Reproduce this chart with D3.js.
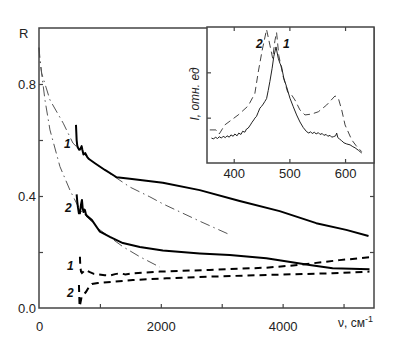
<!DOCTYPE html>
<html><head><meta charset="utf-8">
<script src="https://cdn.jsdelivr.net/npm/d3@7"></script>
<style>
body{margin:0;background:#fff;}
svg{display:block;font-family:Arial,"Liberation Sans",sans-serif;}
</style></head>
<body>
<svg id="c" width="407" height="349"></svg>
<script>
// ---- main chart data (x: wavenumber cm^-1, y: R) ----
const curve1Solid = [[607,0.654],[612,0.63],[618,0.6],[628,0.58],[640,0.572],[660,0.565],[680,0.568],[700,0.578],[712,0.565],[730,0.548],[760,0.553],[790,0.54],[820,0.532],[918,0.517],[1082,0.493],[1274,0.467],[1492,0.462],[2033,0.4475],[2639,0.421],[3295,0.382],[3951,0.346],[4552,0.303],[5044,0.279],[5410,0.257]];
const curve2Solid = [[618,0.406],[628,0.38],[639,0.36],[655,0.338],[672,0.338],[690,0.37],[705,0.386],[718,0.355],[730,0.343],[742,0.352],[754,0.35],[770,0.335],[787,0.329],[869,0.314],[1000,0.2725],[1164,0.254],[1377,0.232],[1656,0.218],[2033,0.205],[2639,0.195],[3131,0.189],[3733,0.1775],[4443,0.1536],[4820,0.142],[5426,0.138]];
const dashDotA = [[0,0.93],[20,0.88],[44,0.838],[180,0.743],[398,0.66],[557,0.589],[836,0.529],[1274,0.464],[1492,0.432],[1820,0.397],[2033,0.372],[2639,0.31],[3131,0.262]];
const dashDotB = [[0,0.93],[8,0.9],[98,0.743],[180,0.636],[344,0.505],[508,0.421],[672,0.35],[1000,0.279],[1377,0.219],[1656,0.183],[1984,0.146]];
const dashed1 = [[672,0.183],[676,0.16],[680,0.145],[690,0.13],[705,0.125],[730,0.13],[754,0.136],[790,0.133],[836,0.128],[900,0.122],[967,0.12],[1080,0.117],[1164,0.116],[1250,0.121],[1328,0.124],[1420,0.12],[1541,0.124],[1984,0.13],[2803,0.136],[3733,0.144],[4279,0.154],[4934,0.171],[5426,0.181]];
const dashed2 = [[656,0.082],[660,0.05],[664,0.02],[668,0.005],[700,0.04],[770,0.057],[820,0.075],[869,0.086],[967,0.089],[1541,0.1],[2093,0.106],[2803,0.112],[3733,0.118],[4820,0.124],[5426,0.13]];
const xTickValues = [1000,2000,3000,4000,5000];
const xTickLabels = [0,2000,4000];
const yTickValues = [0.2,0.4,0.6,0.8];
const yTickLabels = [0.0,0.4,0.8];

// ---- inset data (x: nm, y: I rel. units) ----
const insetSolid1 = [[360,0.55],[364,0.53],[367,0.57],[371,0.54],[374,0.58],[378,0.55],[381,0.59],[385,0.56],[388,0.6],[392,0.57],[395,0.62],[399,0.59],[402,0.64],[406,0.6],[409,0.66],[413,0.63],[416,0.7],[420,0.68],[423,0.75],[426,0.77],[430,0.84],[433,0.9],[436,0.95],[438,0.99],[441,1.03],[444,1.12],[447,1.21],[450,1.25],[453,1.30],[456,1.36],[459,1.42],[462,1.6],[465,1.8],[469,2.09],[472,2.35],[476,2.56],[480,2.31],[483,2.2],[486,2.12],[490,1.87],[495,1.68],[501,1.43],[507,1.24],[513,1.06],[519,0.905],[525,0.78],[531,0.69],[535,0.66],[538,0.69],[541,0.65],[545,0.68],[548,0.64],[552,0.67],[555,0.63],[559,0.65],[562,0.61],[566,0.63],[569,0.59],[573,0.61],[576,0.57],[579,0.58],[583,0.6],[585,0.66],[587,0.56],[590,0.53],[594,0.49],[598,0.445],[603,0.42],[609,0.40],[614,0.36],[618,0.335],[624,0.28],[630,0.22]];
const insetDashed2 = [[357,0.73],[368,0.73],[374,0.64],[384,0.84],[408,1.06],[426,1.26],[438,1.535],[444,2.0],[451,2.48],[459,2.945],[465,2.6],[470,2.31],[474,2.7],[477,2.88],[481,2.37],[489,1.9],[497,1.56],[504,1.5],[510,1.39],[519,1.17],[528,1.06],[540,1.08],[552,1.13],[567,1.28],[582,1.48],[588,1.425],[594,1.17],[600,0.84],[612,0.51],[620,0.38],[630,0.25]];
const insetXTicks = [400,500,600];
const insetYTicks = [1,2];

const svg = d3.select("#c");
const x = d3.scaleLinear().domain([0,5500]).range([39,374]);
const y = d3.scaleLinear().domain([0,1.0]).range([308,28]);
const frameCol = "#444";

const line = d3.line().x(d=>x(d[0])).y(d=>y(d[1]));
const g = svg.append("g");

// curves
g.append("path").datum(dashDotA).attr("d",line).attr("fill","none").attr("stroke","#555").attr("stroke-width",1).attr("stroke-dasharray","10,4,1.5,4");
g.append("path").datum(dashDotB).attr("d",line).attr("fill","none").attr("stroke","#555").attr("stroke-width",1).attr("stroke-dasharray","10,4,1.5,4");
g.append("path").datum(curve1Solid).attr("d",line).attr("fill","none").attr("stroke","#000").attr("stroke-width",2).attr("stroke-linejoin","round");
g.append("path").datum(curve2Solid).attr("d",line).attr("fill","none").attr("stroke","#000").attr("stroke-width",2).attr("stroke-linejoin","round");
g.append("path").datum(dashed1).attr("d",line).attr("fill","none").attr("stroke","#000").attr("stroke-width",2).attr("stroke-dasharray","7,5");
g.append("path").datum(dashed2).attr("d",line).attr("fill","none").attr("stroke","#000").attr("stroke-width",2).attr("stroke-dasharray","7,5");

// axes: ticks inward
const ax = (sel)=>sel.selectAll("path").remove();
svg.append("g").attr("transform","translate(0,308)")
  .call(d3.axisBottom(x).tickValues(xTickValues).tickSize(-4).tickFormat(""))
  .call(s=>{s.selectAll("line").attr("stroke",frameCol).attr("stroke-width",1.2);}).call(ax);
svg.append("g").attr("transform","translate(39,0)")
  .call(d3.axisLeft(y).tickValues(yTickValues).tickSize(-4).tickFormat(""))
  .call(s=>{s.selectAll("line").attr("stroke",frameCol).attr("stroke-width",1.2);}).call(ax);
svg.append("g").attr("transform","translate(374,0)")
  .call(d3.axisRight(y).tickValues(yTickValues).tickSize(-4).tickFormat(""))
  .call(s=>{s.selectAll("line").attr("stroke",frameCol).attr("stroke-width",1.2);}).call(ax);

// tick labels
svg.append("g").attr("transform","translate(0,308)")
  .call(d3.axisBottom(x).tickValues(xTickLabels).tickSize(0).tickPadding(14).tickFormat(d3.format("d")))
  .call(s=>s.selectAll("text").attr("font-size",13).attr("fill","#222").attr("font-family","Arial,'Liberation Sans',sans-serif")).call(ax);
svg.append("g").attr("transform","translate(39,0)")
  .call(d3.axisLeft(y).tickValues(yTickLabels).tickSize(0).tickPadding(3).tickFormat(d3.format(".1f")))
  .call(s=>s.selectAll("text").attr("font-size",13).attr("fill","#222").attr("font-family","Arial,'Liberation Sans',sans-serif")).call(ax);

// frame
svg.append("rect").attr("x",39).attr("y",28).attr("width",335).attr("height",280)
  .attr("fill","none").attr("stroke",frameCol).attr("stroke-width",1.5);

// axis titles
svg.append("text").attr("x",19).attr("y",38).attr("font-size",13).attr("fill","#222").text("R");
const nu = svg.append("text").attr("x",338).attr("y",327).attr("font-size",12).attr("fill","#222");
nu.append("tspan").text("ν, см");
nu.append("tspan").attr("dy",-5).attr("font-size",9).text("-1");

// curve labels
const lab = (t,px,py)=>svg.append("text").attr("x",px).attr("y",py).attr("font-size",12).attr("font-weight","bold").attr("font-style","italic").attr("fill","#111").text(t);
lab("1",64,148); lab("2",65,212); lab("1",67,270); lab("2",67,297);

// ---- inset ----
const ix = d3.scaleLinear().domain([352,652]).range([207,374]);
const iy = d3.scaleLinear().domain([0,3]).range([163,27]);
const ig = svg.append("g");
ig.append("rect").attr("x",207).attr("y",27).attr("width",167).attr("height",136).attr("fill","#fff");
const iline = d3.line().x(d=>ix(d[0])).y(d=>iy(d[1]));
ig.append("path").datum(insetDashed2).attr("d",iline).attr("fill","none").attr("stroke","#444").attr("stroke-width",1).attr("stroke-dasharray","7,4");
ig.append("path").datum(insetSolid1).attr("d",iline).attr("fill","none").attr("stroke","#222").attr("stroke-width",1);
ig.append("g").attr("transform","translate(0,163)")
  .call(d3.axisBottom(ix).tickValues(insetXTicks).tickSize(-4).tickFormat(""))
  .call(s=>s.selectAll("line").attr("stroke",frameCol).attr("stroke-width",1.2)).call(ax);
ig.append("g").attr("transform","translate(0,27)")
  .call(d3.axisTop(ix).tickValues(insetXTicks).tickSize(-4).tickFormat(""))
  .call(s=>s.selectAll("line").attr("stroke",frameCol).attr("stroke-width",1.2)).call(ax);
ig.append("g").attr("transform","translate(207,0)")
  .call(d3.axisLeft(iy).tickValues(insetYTicks).tickSize(-4).tickFormat(""))
  .call(s=>s.selectAll("line").attr("stroke",frameCol).attr("stroke-width",1.2)).call(ax);
ig.append("g").attr("transform","translate(0,163)")
  .call(d3.axisBottom(ix).tickValues(insetXTicks).tickSize(0).tickPadding(6).tickFormat(d3.format("d")))
  .call(s=>s.selectAll("text").attr("font-size",13).attr("fill","#222").attr("font-family","Arial,'Liberation Sans',sans-serif")).call(ax);
ig.append("rect").attr("x",207).attr("y",27).attr("width",167).attr("height",136)
  .attr("fill","none").attr("stroke",frameCol).attr("stroke-width",1.5);
ig.append("text").attr("transform","translate(199,94) rotate(-90)").attr("text-anchor","middle")
  .attr("font-size",12).attr("font-style","italic").attr("fill","#222").text("I, отн. ед");
lab("2",256,48); lab("1",283,48);
</script>
</body></html>
